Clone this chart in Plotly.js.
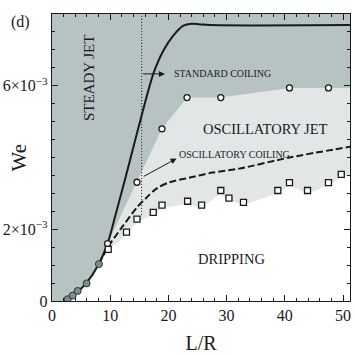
<!DOCTYPE html>
<html>
<head>
<meta charset="utf-8">
<script src="https://cdn.plot.ly/plotly-3.0.1.min.js"></script>
<style>
  body { margin: 0; background: #fff; }
  #chart { width: 354px; height: 354px; }
</style>
</head>
<body>
<div id="chart"></div>
<script>
// Steady jet points (filled circles)
var steadyX = [2.7, 3.55, 4.4, 5.95, 8.06];
var steadyY = [0.05e-3, 0.15e-3, 0.28e-3, 0.49e-3, 1.03e-3];

// Standard coiling / oscillatory jet limit (open circles)
var circX = [9.55, 14.6, 18.9, 23.2, 29.0, 40.8, 47.5];
var circY = [1.6e-3, 3.31e-3, 4.8e-3, 5.67e-3, 5.67e-3, 5.94e-3, 5.94e-3];

// Dripping limit (open squares)
var sqX = [9.66, 12.8, 14.6, 17.4, 18.9, 23.3, 25.7, 29.0, 30.4, 32.9, 38.8, 40.8, 43.9, 47.5, 49.7];
var sqY = [1.44e-3, 1.92e-3, 2.28e-3, 2.47e-3, 2.67e-3, 2.78e-3, 2.67e-3, 3.08e-3, 2.87e-3, 2.75e-3,
           3.08e-3, 3.3e-3, 3.08e-3, 3.3e-3, 3.53e-3];

// Standard coiling curve (solid)
var coilX = [2.2, 4, 6, 8, 9.55, 11, 12.5, 14, 15.4, 17.4, 19.1, 20.8, 22.5, 24, 25.4, 27.1, 51.2];
var coilY = [0, 0.2e-3, 0.52e-3, 1.02e-3, 1.6e-3, 2.45e-3, 3.36e-3, 4.3e-3, 5.17e-3, 6.33e-3,
             6.97e-3, 7.39e-3, 7.67e-3, 7.73e-3, 7.71e-3, 7.69e-3, 7.69e-3];

// Oscillatory coiling curve (dashed)
var oscX = [8.06, 9.6, 12, 14.6, 16.3, 18, 20.2, 23.7, 27.6, 32.2, 40.8, 51.2];
var oscY = [1.03e-3, 1.5e-3, 2.05e-3, 2.61e-3, 2.89e-3, 3.14e-3, 3.31e-3, 3.44e-3, 3.58e-3, 3.69e-3, 4.0e-3, 4.3e-3];

// Lower edge of the oscillatory jet region
var dripX = [9.6, 12.8, 14.6, 17.4, 18.9, 23.3, 25.7, 29.0, 30.4, 32.9, 38.8, 40.8, 43.9, 47.5, 49.7, 51.2];
var dripY = [1.42e-3, 1.84e-3, 2.2e-3, 2.4e-3, 2.6e-3, 2.7e-3, 2.6e-3, 3.0e-3, 2.8e-3, 2.68e-3,
             3.0e-3, 3.22e-3, 3.0e-3, 3.22e-3, 3.45e-3, 3.5e-3];

var xMax = 51.2, yMax = 8e-3;
var dividerX = 15.4, dividerY0 = 2.4e-3;

var serif = '"Liberation Serif", "Times New Roman", serif';
var ink = '#1a1a1a';

// light grey region: below open circles
var lightX = circX.concat([xMax, xMax, circX[0]]);
var lightY = circY.concat([circY[circY.length - 1], 0, 0]);

// white dripping region: below solid curve then below squares
var whiteX = coilX.slice(0, 4).concat(dripX, [xMax]);
var whiteY = coilY.slice(0, 4).concat(dripY, [0]);

var traces = [
    {x: lightX, y: lightY, mode: 'lines', fill: 'toself', fillcolor: '#e2e6e7',
     line: {width: 0}, hoverinfo: 'skip'},
    {x: whiteX, y: whiteY, mode: 'lines', fill: 'toself', fillcolor: '#ffffff',
     line: {width: 0}, hoverinfo: 'skip'},
    {x: [dividerX, dividerX], y: [dividerY0, yMax], mode: 'lines',
     line: {color: ink, width: 1, dash: '1px,2px'}},
    {x: coilX, y: coilY, mode: 'lines', line: {color: ink, width: 2, shape: 'spline', smoothing: 0.8}},
    {x: oscX, y: oscY, mode: 'lines', line: {color: ink, width: 2, dash: '7px,3px', shape: 'spline', smoothing: 0.8}},
    {x: steadyX, y: steadyY, mode: 'markers',
     marker: {symbol: 'circle', size: 7, color: '#7d8c8c', line: {color: '#333', width: 1}}},
    {x: circX, y: circY, mode: 'markers',
     marker: {symbol: 'circle', size: 6, color: '#fff', line: {color: ink, width: 1.3}}},
    {x: sqX, y: sqY, mode: 'markers',
     marker: {symbol: 'square', size: 6, color: '#fff', line: {color: ink, width: 1.3}}}
];

var annotations = [
    {xref: 'paper', yref: 'paper', x: -0.145, y: 1.012, text: '(d)', showarrow: false,
     font: {size: 16}},
    {xref: 'paper', yref: 'paper', x: -0.158, y: 0.5, text: 'We', textangle: -90, showarrow: false,
     font: {size: 21}},
    {x: 6.4, y: 6.22e-3, text: 'STEADY JET', textangle: -90, showarrow: false, font: {size: 15}},
    {x: 36.7, y: 4.8e-3, text: 'OSCILLATORY JET', showarrow: false, font: {size: 14.5}},
    {x: 30.9, y: 1.17e-3, text: 'DRIPPING', showarrow: false, font: {size: 14.5}},
    {x: 20.6, y: 6.33e-3, xanchor: 'left', text: 'STANDARD COILING', showarrow: false, font: {size: 10}},
    {x: 31.4, y: 4.07e-3, text: 'OSCILLATORY COILING', showarrow: false, font: {size: 10}},
    // arrows
    {x: 19.4, y: 6.33e-3, ax: dividerX, ay: 6.33e-3, axref: 'x', ayref: 'y', text: '',
     showarrow: true, arrowhead: 2, arrowsize: 1.2, arrowwidth: 1, arrowcolor: ink},
    {x: 21.4, y: 3.97e-3, ax: 15.5, ay: 3.45e-3, axref: 'x', ayref: 'y', text: '',
     showarrow: true, arrowhead: 2, arrowsize: 1.2, arrowwidth: 1, arrowcolor: ink}
];

var layout = {
    width: 354, height: 354,
    margin: {l: 52, r: 4, t: 14, b: 53},
    paper_bgcolor: '#fff',
    plot_bgcolor: '#b7c3c3',
    showlegend: false,
    font: {family: serif, color: ink},
    xaxis: {
        range: [0, xMax], tickvals: [0, 10, 20, 30, 40, 50],
        ticks: 'inside', ticklen: 6, tickcolor: ink, tickwidth: 1,
        minor: {dtick: 2, ticks: 'inside', ticklen: 3, tickcolor: ink},
        showline: true, linecolor: ink, linewidth: 1.2, mirror: 'ticks',
        showgrid: false, zeroline: false,
        tickfont: {size: 16},
        title: {text: 'L/R', font: {size: 20}, standoff: 12}
    },
    yaxis: {
        range: [0, yMax], tickvals: [0, 2e-3, 6e-3],
        ticktext: ['0', '2×10<sup>−3</sup>', '6×10<sup>−3</sup>'],
        ticks: 'inside', ticklen: 6, tickcolor: ink, tickwidth: 1,
        minor: {tickvals: [0.5e-3, 1e-3, 1.5e-3, 2.5e-3, 3e-3, 3.5e-3, 4e-3, 4.5e-3, 5e-3, 5.5e-3,
                           6.5e-3, 7e-3, 7.5e-3], ticks: 'inside', ticklen: 3, tickcolor: ink},
        showline: true, linecolor: ink, linewidth: 1.2, mirror: 'ticks',
        showgrid: false, zeroline: false,
        tickfont: {size: 16}
    },
    annotations: annotations
};

Plotly.newPlot('chart', traces, layout, {staticPlot: true});
</script>
</body>
</html>
